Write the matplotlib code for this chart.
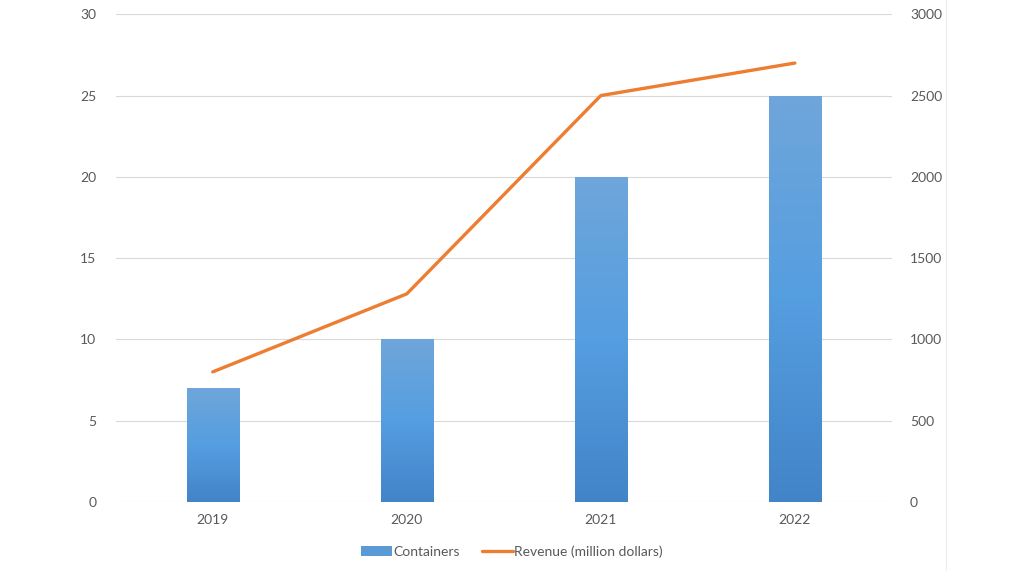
import numpy as np
import matplotlib.pyplot as plt
from matplotlib.colors import LinearSegmentedColormap
from matplotlib.lines import Line2D

years = ['2019', '2020', '2021', '2022']
containers = [7, 10, 20, 25]
revenue = [800, 1280, 2500, 2700]

plt.rcParams['font.family'] = ['Lato', 'DejaVu Sans']
text_color = '#595959'

fig = plt.figure(figsize=(10.24, 5.71), dpi=100)
ax = fig.add_axes([0.113, 0.121, 0.758, 0.854])
ax2 = ax.twinx()

x = np.arange(len(years))
bars = ax.bar(x, containers, width=0.27, color='#5b9bd5', label='Containers', zorder=2)

# vertical gradient on each bar
grad = LinearSegmentedColormap.from_list('g', ['#4284c8', '#559ee0', '#6fa6da'])
for b in bars:
    bx, by = b.get_x(), b.get_y()
    w, h = b.get_width(), b.get_height()
    img = ax.imshow(np.linspace(0, 1, 256).reshape(-1, 1), cmap=grad, origin='lower',
                    extent=[bx, bx + w, by, by + h], aspect='auto', zorder=2)
    img.set_clip_path(b)
    b.set_facecolor('none')

ax.set_xlim(-0.5, 3.5)
ax.set_ylim(0, 30)
ax.set_yticks(range(0, 31, 5))
ax.set_xticks(x)
ax.set_xticklabels(years)
ax.grid(axis='y', color='#d9d9d9', linewidth=0.8, zorder=0)
ax.set_axisbelow(True)

ax2.plot(x, revenue, color='#ed7d31', linewidth=2.4, solid_capstyle='round',
         label='Revenue (million dollars)', zorder=3)
ax2.set_ylim(0, 3000)
ax2.set_yticks(range(0, 3001, 500))

for a in (ax, ax2):
    for s in a.spines.values():
        s.set_visible(False)
    a.tick_params(length=0, labelsize=10, colors=text_color)
ax.tick_params(axis='x', pad=9)
ax.tick_params(axis='y', pad=14)
ax2.tick_params(axis='y', pad=13)

h1, l1 = ax.get_legend_handles_labels()
h2, l2 = ax2.get_legend_handles_labels()
leg = fig.legend(h1 + h2, l1 + l2, loc='center', bbox_to_anchor=(0.5, 0.034), ncol=2,
                 frameon=False, fontsize=10, handlelength=2.2, handletextpad=0.1,
                 columnspacing=1.6)
for t in leg.get_texts():
    t.set_color(text_color)
leg.legend_handles[0].set_facecolor('#5b9bd5')

# faint border line on the right of the screenshot
fig.add_artist(Line2D([0.924, 0.924], [0, 1], color='#eeeeee', linewidth=0.8))

fig.savefig('out.png', dpi=100, facecolor='white')
